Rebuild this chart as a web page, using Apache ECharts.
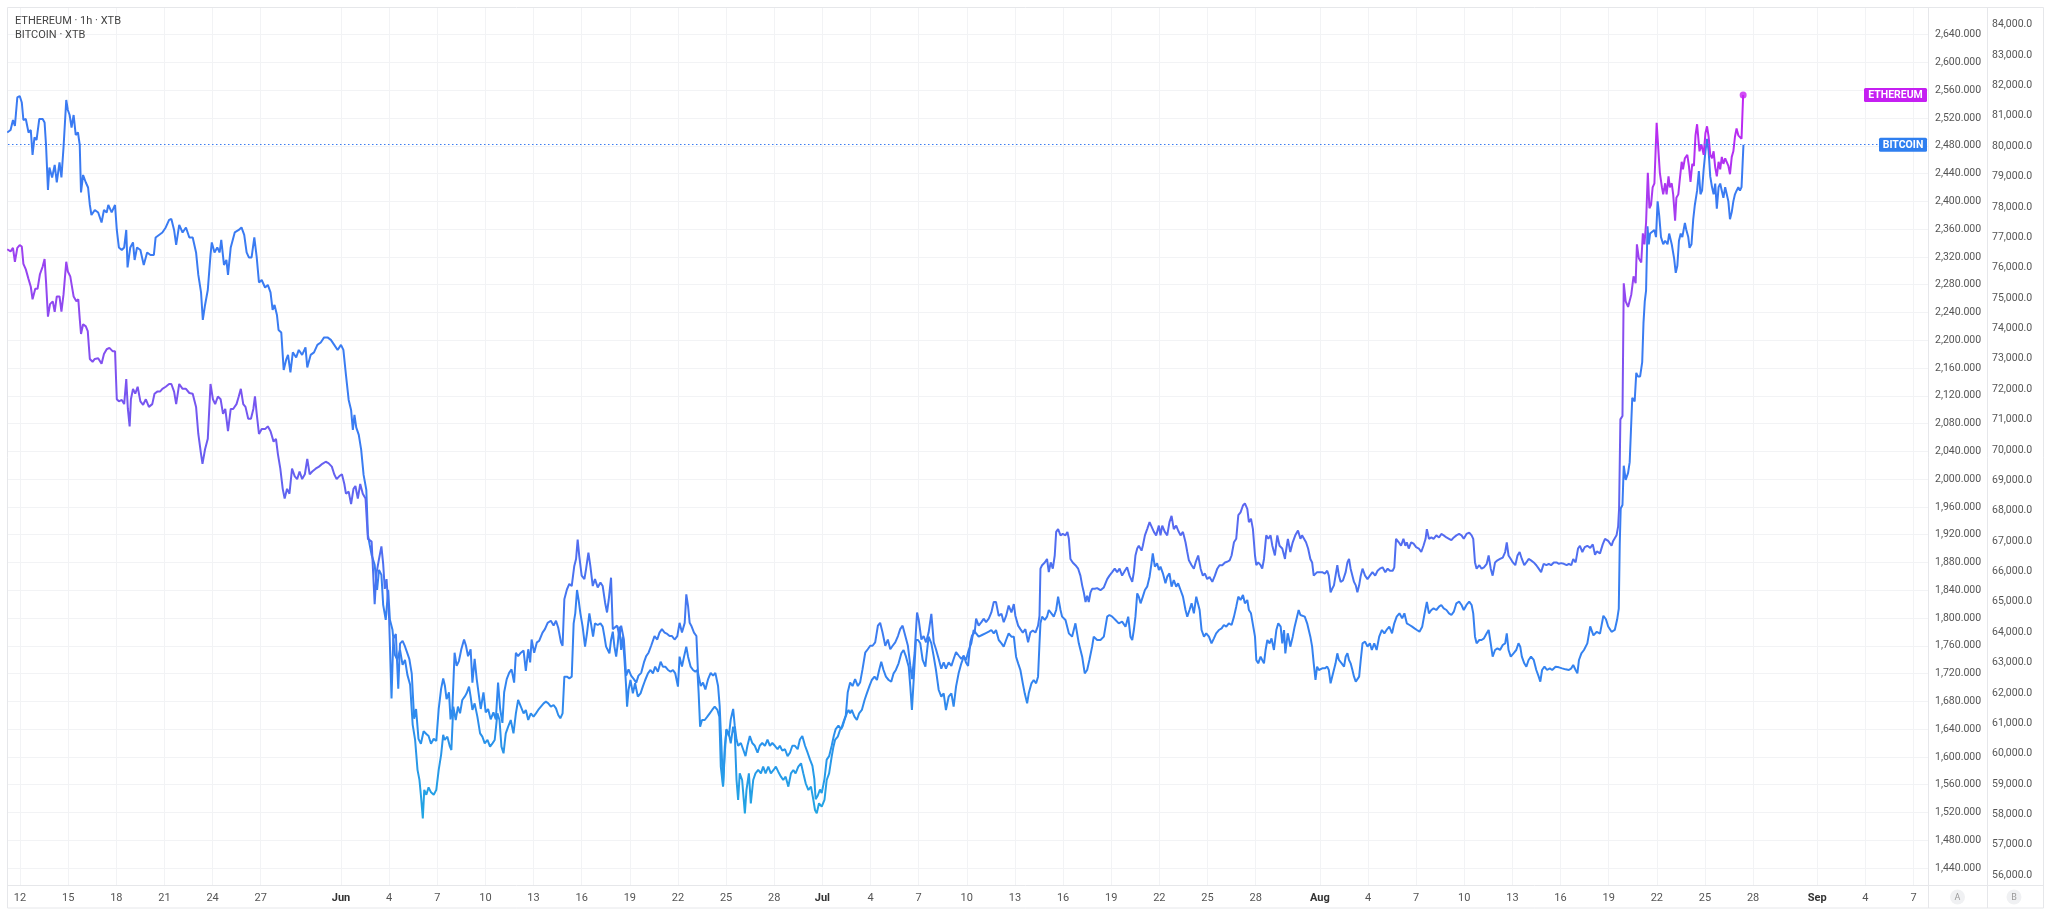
<!DOCTYPE html>
<html><head><meta charset="utf-8">
<script src="https://cdn.jsdelivr.net/npm/echarts@6/dist/echarts.min.js"></script>
<style>html,body{margin:0;padding:0;background:#fff;}#c{width:2048px;height:917px;}</style>
</head><body><div id="c"></div>
<script>
// x values are calendar days counted from 30 Apr (1 = 1 May, 32 = 1 Jun, 62 = 1 Jul, 93 = 1 Aug, 124 = 1 Sep)
const tickDays = [12,15,18,21,24,27,32,35,38,41,44,47,50,53,56,59,62,65,68,71,74,77,80,83,86,89,93,96,99,102,105,108,111,114,117,120,124,127,130];
const tickLabels = ['12','15','18','21','24','27','Jun','4','7','10','13','16','19','22','25','28','Jul','4','7','10','13','16','19','22','25','28','Aug','4','7','10','13','16','19','22','25','28','Sep','4','7'];
const ethTicks = [1440,1480,1520,1560,1600,1640,1680,1720,1760,1800,1840,1880,1920,1960,2000,2040,2080,2120,2160,2200,2240,2280,2320,2360,2400,2440,2480,2520,2560,2600,2640];
const btcTicks = [56000,57000,58000,59000,60000,61000,62000,63000,64000,65000,66000,67000,68000,69000,70000,71000,72000,73000,74000,75000,76000,77000,78000,79000,80000,81000,82000,83000,84000];

// ETHEREUM · 1h · XTB  [day, price]
const eth = [
[11.20,2331],[11.41,2328],[11.56,2333],[11.68,2313],[11.83,2333],[11.98,2337],[12.11,2335],[12.21,2310],[12.36,2302],[12.53,2288],[12.67,2277],[12.78,2259],[12.95,2274],[13.09,2274],[13.24,2295],[13.41,2306],[13.53,2317],[13.62,2284],[13.74,2234],[13.87,2252],[14.04,2256],[14.16,2241],[14.29,2263],[14.46,2263],[14.58,2241],[14.71,2266],[14.88,2313],[14.98,2299],[15.13,2292],[15.26,2274],[15.34,2263],[15.51,2256],[15.63,2259],[15.72,2231],[15.80,2209],[15.93,2223],[16.10,2220],[16.22,2213],[16.35,2173],[16.52,2169],[16.66,2173],[16.87,2174],[17.08,2166],[17.23,2180],[17.40,2187],[17.57,2189],[17.78,2184],[17.92,2184],[18.03,2115],[18.16,2112],[18.34,2114],[18.49,2108],[18.62,2144],[18.72,2101],[18.83,2076],[18.91,2115],[19.04,2130],[19.18,2123],[19.33,2133],[19.50,2112],[19.67,2107],[19.84,2115],[20.03,2104],[20.24,2108],[20.38,2123],[20.55,2126],[20.72,2126],[20.87,2130],[21.08,2133],[21.29,2137],[21.43,2137],[21.60,2126],[21.73,2108],[21.92,2137],[22.13,2130],[22.34,2130],[22.55,2124],[22.76,2123],[22.97,2104],[23.11,2065],[23.28,2036],[23.37,2022],[23.53,2043],[23.70,2058],[23.87,2137],[24.02,2115],[24.16,2108],[24.33,2119],[24.50,2115],[24.65,2094],[24.79,2101],[24.96,2069],[25.13,2101],[25.28,2101],[25.49,2108],[25.63,2119],[25.76,2130],[25.91,2108],[26.05,2104],[26.22,2087],[26.39,2087],[26.54,2101],[26.64,2119],[26.75,2094],[26.89,2065],[27.06,2072],[27.27,2072],[27.44,2076],[27.61,2069],[27.80,2054],[27.95,2058],[28.07,2036],[28.22,2015],[28.37,1986],[28.49,1972],[28.64,1986],[28.79,1979],[28.95,2015],[29.12,2004],[29.27,2000],[29.42,2011],[29.58,2000],[29.75,2007],[29.90,2029],[30.05,2007],[30.21,2011],[30.42,2015],[30.63,2018],[30.84,2022],[31.05,2025],[31.22,2023],[31.43,2018],[31.58,2007],[31.73,2000],[31.89,2004],[32.06,2007],[32.21,1993],[32.31,1979],[32.48,1982],[32.63,1964],[32.78,1986],[32.90,1990],[33.05,1972],[33.20,1993],[33.36,1979],[33.53,1972],[33.68,1914],[33.79,1914],
[33.91,1910],[34.10,1820],[34.21,1864],[34.37,1885],[34.52,1903],[34.63,1878],[34.73,1842],[34.84,1856],[35.00,1799],[35.15,1684],[35.26,1770],[35.42,1777],[35.57,1698],[35.68,1763],[35.84,1767],[35.99,1759],[36.14,1749],[36.26,1741],[36.41,1720],[36.56,1655],[36.68,1669],[36.83,1626],[36.98,1619],[37.15,1637],[37.32,1633],[37.46,1630],[37.61,1619],[37.78,1626],[37.94,1623],[38.09,1669],[38.24,1698],[38.37,1713],
[38.48,1702],[38.58,1683],[38.73,1693],[38.83,1654],[38.94,1669],[39.08,1750],[39.21,1731],[39.35,1738],[39.50,1755],[39.67,1769],[39.79,1760],[39.92,1745],[40.08,1755],[40.19,1707],[40.33,1741],[40.46,1712],[40.60,1688],[40.71,1669],[40.88,1693],[41.02,1664],[41.17,1669],[41.33,1654],[41.50,1664],[41.65,1654],[41.79,1707],[41.92,1669],[42.06,1649],[42.17,1693],[42.33,1712],[42.48,1721],[42.63,1726],[42.79,1707],[42.90,1750],[43.04,1745],[43.21,1750],[43.38,1753],[43.52,1724],[43.67,1755],[43.79,1736],[43.88,1769],[44.04,1750],[44.21,1765],[44.35,1767],[44.56,1779],[44.71,1784],[44.88,1793],[45.08,1796],[45.25,1789],[45.40,1796],[45.54,1786],[45.71,1765],[45.81,1760],[45.92,1827],[46.08,1841],[46.23,1849],[46.38,1846],[46.54,1875],[46.65,1885],[46.75,1913],[46.85,1889],[47.00,1861],[47.17,1856],[47.27,1870],[47.42,1894],[47.54,1875],[47.69,1846],[47.83,1856],[48.00,1844],[48.17,1851],[48.31,1846],[48.46,1822],[48.58,1808],[48.69,1827],[48.83,1858],[48.94,1784],[49.04,1784],[49.21,1789],[49.35,1774],[49.46,1789],[49.63,1769],[49.77,1717],[49.92,1726],[50.08,1717],[50.25,1712],[50.40,1707],[50.54,1717],[50.71,1721],[50.88,1736],[51.02,1745],[51.17,1750],[51.33,1760],[51.54,1774],[51.71,1769],[51.85,1779],[52.00,1784],[52.17,1779],[52.33,1777],[52.48,1774],[52.63,1774],[52.79,1769],[52.96,1774],[53.10,1793],[53.25,1779],[53.42,1793],[53.52,1834],[53.63,1817],[53.73,1793],[53.83,1789],[54.00,1779],[54.15,1774],[54.25,1721],[54.42,1702],[54.56,1707],[54.71,1697],[54.88,1712],[55.04,1721],[55.19,1717],[55.33,1721],[55.50,1702],[55.60,1673],[55.71,1616],[55.81,1558],[55.92,1606],[56.02,1640],[56.17,1630],[56.29,1654],[56.44,1669],[56.54,1645],[56.65,1625],[56.75,1616],[56.92,1620],[57.06,1611],[57.21,1601],[57.33,1616],[57.48,1630],[57.63,1620],[57.79,1616],[57.96,1606],[58.10,1616],[58.25,1620],[58.42,1616],[58.58,1625],[58.73,1616],[58.88,1620],[59.04,1616],[59.21,1611],[59.35,1616],[59.50,1609],[59.67,1611],[59.83,1601],[59.98,1606],[60.13,1616],[60.29,1616],[60.46,1611],[60.60,1625],[60.75,1630],[60.92,1616],[61.08,1606],[61.23,1596],[61.38,1587],[61.50,1568],[61.58,1539],[61.71,1544],[61.85,1553],[61.96,1548],[62.13,1568],[62.27,1596],[62.42,1601],[62.58,1616],[62.71,1630],[62.83,1640],[63.00,1645],[63.17,1640],[63.31,1650],[63.46,1660],[63.58,1693],[63.73,1707],[63.88,1702],[64.04,1712],[64.21,1702],[64.35,1707],[64.50,1726],[64.67,1750],[64.83,1755],[64.98,1760],[65.13,1760],[65.29,1765],[65.46,1789],[65.60,1793],[65.75,1779],[65.92,1760],[66.08,1769],[66.23,1755],[66.38,1760],[66.54,1765],[66.71,1774],[66.85,1784],[67.00,1789],[67.17,1774],[67.33,1760],[67.48,1731],[67.58,1712],[67.75,1750],[67.90,1808],[68.00,1798],[68.17,1769],[68.31,1774],
[68.46,1765],[68.62,1779],[68.79,1806],[68.94,1765],[69.08,1755],[69.25,1741],[69.41,1727],[69.56,1736],[69.70,1727],[69.87,1736],[70.04,1731],[70.18,1741],[70.33,1751],[70.49,1746],[70.66,1741],[70.81,1746],[70.95,1736],[71.08,1731],[71.22,1765],[71.33,1775],[71.49,1779],[71.58,1799],[71.74,1789],[71.91,1794],[72.05,1799],[72.20,1794],[72.37,1799],[72.53,1808],[72.68,1823],[72.82,1823],[72.99,1803],[73.16,1806],[73.30,1794],[73.45,1803],[73.61,1818],[73.78,1808],[73.93,1820],[74.03,1803],[74.20,1789],[74.34,1784],[74.49,1779],[74.65,1784],[74.82,1765],[74.96,1779],[75.11,1782],[75.28,1779],[75.44,1789],[75.53,1803],[75.59,1871],[75.69,1876],[75.86,1880],[76.00,1885],[76.11,1866],[76.23,1880],[76.36,1871],[76.48,1890],[76.57,1924],[76.69,1928],[76.84,1919],[76.98,1921],[77.15,1919],[77.27,1924],[77.36,1914],[77.46,1885],[77.60,1880],[77.77,1876],[77.94,1871],[78.08,1861],[78.19,1847],[78.29,1837],[78.40,1823],[78.50,1832],[78.60,1823],[78.71,1837],[78.81,1842],[78.98,1842],[79.12,1843],[79.33,1840],[79.54,1844],[79.75,1856],[79.89,1861],[80.06,1866],[80.22,1871],[80.37,1866],[80.52,1871],[80.68,1861],[80.85,1868],[80.99,1873],[81.14,1861],[81.31,1852],[81.41,1866],[81.51,1890],[81.62,1900],[81.72,1904],[81.89,1897],[81.97,1904],[82.10,1919],[82.24,1928],[82.39,1938],[82.51,1936],[82.66,1924],[82.80,1919],[82.97,1933],[83.07,1919],[83.18,1933],[83.34,1924],[83.49,1919],[83.63,1938],[83.76,1947],[83.90,1928],[84.05,1933],[84.17,1926],[84.32,1919],[84.47,1924],[84.63,1909],[84.74,1895],[84.84,1883],[85.01,1876],[85.15,1871],[85.26,1880],[85.42,1890],[85.57,1871],[85.71,1861],[85.84,1864],[85.98,1856],[86.13,1859],[86.30,1852],[86.46,1861],[86.61,1871],[86.75,1876],[86.92,1876],[87.09,1880],[87.23,1881],[87.38,1883],[87.50,1890],[87.65,1909],[87.79,1914],[87.92,1948],[88.06,1952],[88.21,1962],[88.33,1965],[88.48,1957],[88.58,1938],[88.71,1943],[88.83,1928],[88.96,1890],[89.04,1876],[89.16,1880],[89.31,1876],[89.41,1871],[89.52,1885],[89.66,1919],[89.79,1914],[89.93,1919],[90.04,1904],[90.20,1890],[90.35,1919],[90.49,1904],[90.66,1900],[90.83,1885],
[90.85,1890],[91.01,1914],[91.16,1895],[91.31,1909],[91.47,1919],[91.64,1926],[91.79,1914],[91.89,1919],[92.00,1921],[92.14,1909],[92.27,1900],[92.41,1885],[92.52,1880],[92.62,1861],[92.73,1859],[92.83,1866],[92.94,1864],[93.15,1866],[93.31,1864],[93.46,1868],[93.56,1861],[93.67,1837],[93.77,1842],[93.88,1847],[93.98,1861],[94.09,1876],[94.19,1861],[94.30,1852],[94.44,1854],[94.61,1866],[94.72,1880],[94.82,1885],[94.92,1871],[95.03,1861],[95.13,1852],[95.24,1847],[95.34,1837],[95.45,1847],[95.55,1861],[95.66,1871],[95.82,1861],[95.97,1856],[96.12,1861],[96.28,1866],[96.45,1861],[96.60,1868],[96.74,1871],[96.91,1873],[97.08,1866],[97.23,1871],[97.37,1868],[97.54,1868],[97.64,1873],[97.75,1914],[97.92,1909],[98.06,1904],[98.21,1914],[98.33,1904],[98.42,1909],[98.54,1900],[98.69,1909],[98.84,1907],[99.00,1902],[99.17,1900],[99.32,1895],[99.46,1904],[99.59,1914],[99.67,1928],[99.80,1914],[99.95,1916],[100.09,1914],[100.26,1919],[100.43,1916],[100.57,1921],[100.72,1919],[100.89,1916],[101.05,1914],[101.20,1912],[101.35,1916],[101.51,1919],[101.68,1921],[101.83,1919],[101.97,1914],[102.14,1921],[102.31,1923],[102.46,1919],[102.56,1914],[102.67,1880],[102.77,1871],[102.94,1876],[103.08,1871],[103.23,1873],[103.40,1878],[103.52,1890],[103.65,1871],[103.77,1861],[103.92,1880],[104.07,1883],[104.23,1885],[104.40,1887],[104.55,1895],[104.65,1909],[104.76,1890],[104.90,1885],[105.03,1880],[105.18,1876],[105.32,1890],[105.45,1895],[105.59,1885],[105.74,1876],[105.87,1880],[106.01,1885],[106.16,1883],[106.33,1880],[106.49,1876],[106.64,1871],[106.79,1866],[106.95,1878],[107.12,1876],[107.27,1878],[107.41,1876],[107.58,1880],[107.75,1880],[107.90,1878],[108.04,1879],[108.21,1878],[108.38,1876],[108.52,1878],[108.67,1876],[108.79,1885],[108.94,1880],[109.09,1900],[109.21,1904],[109.36,1895],[109.51,1902],[109.67,1904],
[109.85,1901],[110.01,1906],[110.15,1891],[110.26,1896],[110.46,1893],[110.63,1906],[110.77,1914],[110.97,1911],[111.18,1904],[111.28,1911],[111.49,1919],[111.59,1932],[111.65,1958],[111.73,2086],[111.86,2091],[111.94,2282],[112.06,2256],[112.21,2248],[112.31,2246],[112.41,2266],[112.55,2292],[112.68,2282],[112.76,2338],[112.88,2318],[113.03,2312],[113.13,2354],[113.23,2338],[113.33,2369],[113.44,2441],[113.54,2390],[113.64,2395],[113.74,2420],[113.85,2426],[113.99,2513],[114.11,2513],[114.19,2441],[114.32,2420],[114.40,2410],[114.52,2426],[114.61,2410],[114.73,2436],[114.81,2420],[114.93,2426],[115.02,2410],[115.14,2372],[115.22,2405],[115.34,2410],[115.43,2431],[115.55,2457],[115.63,2446],[115.75,2462],[115.90,2467],[116.00,2451],[116.10,2428],[116.21,2454],[116.31,2451],[116.41,2495],[116.51,2511],[116.57,2513],[116.66,2472],[116.78,2482],[116.92,2467],[117.03,2498],[117.13,2508],[117.23,2493],[117.33,2467],[117.44,2462],[117.54,2472],[117.64,2449],[117.74,2436],[117.85,2457],[117.95,2446],[118.05,2464],[118.15,2454],[118.26,2462],[118.36,2464],[118.46,2451],[118.56,2439],[118.67,2464],[118.77,2472],[118.87,2493],[118.97,2505],[119.08,2495],[119.18,2493],[119.28,2490],[119.38,2553]
];

// BITCOIN · XTB  [day, price]
const btc = [
[11.20,80452],[11.41,80535],[11.56,80864],[11.68,80667],[11.83,81605],[11.98,81654],[12.11,81440],[12.21,80864],[12.36,80897],[12.53,80452],[12.67,80535],[12.78,79712],[12.90,80288],[13.03,80205],[13.20,80897],[13.41,80897],[13.53,80781],[13.62,80041],[13.74,78559],[13.83,79300],[14.00,78971],[14.16,79383],[14.29,78806],[14.46,79465],[14.58,78971],[14.71,79959],[14.88,81522],[14.98,81193],[15.09,81028],[15.21,80617],[15.34,81028],[15.47,80370],[15.61,80452],[15.72,80041],[15.80,78477],[15.93,79053],[16.10,78806],[16.24,78641],[16.35,78066],[16.45,77736],[16.66,77901],[16.87,77819],[17.08,77489],[17.23,77901],[17.40,77819],[17.50,78066],[17.71,77819],[17.92,78066],[18.03,77243],[18.16,76667],[18.34,76584],[18.49,76667],[18.62,77243],[18.70,76008],[18.87,76667],[19.04,76831],[19.14,76255],[19.29,76667],[19.50,76584],[19.71,76090],[19.92,76502],[20.13,76420],[20.34,76420],[20.45,76996],[20.66,77078],[20.87,77160],[21.08,77325],[21.29,77572],[21.43,77605],[21.60,77243],[21.73,76749],[21.92,77407],[22.13,77160],[22.34,77325],[22.55,76996],[22.76,76996],[22.97,76502],[23.11,75761],[23.28,75185],[23.39,74280],[23.53,74773],[23.70,75267],[23.87,76420],[23.95,76831],[24.12,76502],[24.29,76667],[24.44,76502],[24.54,76913],[24.71,76090],[24.86,76255],[24.96,75761],[25.13,76667],[25.38,77160],[25.63,77243],[25.80,77325],[25.97,77078],[26.12,76502],[26.26,76337],[26.43,76337],[26.60,76996],[26.75,76337],[26.89,75514],[27.06,75596],[27.27,75349],[27.44,75432],[27.61,75185],[27.74,74609],[27.86,74773],[28.01,74444],[28.11,73950],[28.28,73868],[28.43,72634],[28.58,72963],[28.70,73128],[28.85,72551],[29.00,73210],[29.21,73045],[29.37,73292],[29.58,73128],[29.79,73374],[29.90,72716],[30.11,73128],[30.32,73210],[30.53,73457],[30.74,73539],[30.95,73704],[31.16,73704],[31.37,73622],[31.58,73457],[31.79,73292],[32.00,73457],[32.15,73292],[32.31,72469],[32.48,71646],[32.63,71316],[32.74,70658],[32.84,71152],[32.95,70740],[33.11,70493],[33.26,70000],[33.41,69177],[33.58,68683],[33.68,67202],[33.79,66872],
[33.91,66544],[34.10,66214],[34.25,65392],[34.37,66050],[34.52,65885],[34.63,64898],[34.79,64404],[34.94,65392],[35.05,64404],[35.21,64075],[35.36,63252],[35.51,63087],[35.68,63416],[35.84,62922],[35.99,63087],[36.14,62593],[36.31,62264],[36.47,60947],[36.62,60453],[36.77,59466],[36.89,59137],[36.98,58643],[37.10,57869],[37.19,58807],[37.32,58643],[37.46,58890],[37.61,58725],[37.78,58643],[37.94,58807],[38.09,59466],[38.24,59960],[38.37,60618],
[38.46,60449],[38.63,60558],[38.79,60229],[38.88,60120],[39.00,61547],[39.15,61107],[39.29,61547],[39.42,61327],[39.56,61766],[39.71,61876],[39.83,61985],[39.98,62205],[40.08,61876],[40.19,61437],[40.33,61656],[40.50,61217],[40.67,60668],[40.81,60558],[40.96,60339],[41.13,60449],[41.29,60229],[41.44,60339],[41.58,60449],[41.75,61327],[41.88,61107],[42.00,60229],[42.13,60010],[42.27,60668],[42.42,60888],[42.58,61107],[42.75,60668],[42.90,61327],[43.04,61766],[43.21,61547],[43.38,61327],[43.52,61437],[43.67,61107],[43.83,61327],[44.00,61217],[44.15,61327],[44.29,61437],[44.46,61547],[44.63,61656],[44.77,61711],[44.92,61656],[45.08,61547],[45.25,61601],[45.40,61492],[45.54,61272],[45.67,61162],[45.81,61327],[45.92,62534],[46.08,62534],[46.23,62479],[46.38,62534],[46.50,64290],[46.60,64620],[46.71,65388],[46.81,65059],[46.92,64620],[47.06,64181],[47.21,63522],[47.33,63961],[47.48,64620],[47.58,64290],[47.71,63851],[47.83,64290],[48.00,64235],[48.17,64290],[48.31,64181],[48.42,63851],[48.52,63522],[48.63,63412],[48.73,63302],[48.83,63742],[48.94,64016],[49.04,63522],[49.15,63193],[49.25,63632],[49.35,64181],[49.46,63412],[49.56,63851],[49.67,63083],[49.77,62205],[49.83,61547],[49.92,62095],[50.04,62424],[50.19,61985],[50.33,62315],[50.50,61876],[50.67,61985],[50.81,62205],[50.96,62424],[51.13,62644],[51.29,62754],[51.44,62644],[51.58,62864],[51.75,62699],[51.92,63028],[52.06,62864],[52.21,62864],[52.38,62754],[52.54,62699],[52.69,62754],[52.83,62644],[53.00,62205],[53.10,63193],[53.25,62864],[53.38,63193],[53.52,63522],[53.63,63193],[53.79,62864],[53.94,62754],[54.08,62699],[54.21,62754],[54.29,61985],[54.38,60888],[54.50,61107],[54.67,61107],[54.83,61217],[54.98,61327],[55.13,61437],[55.29,61547],[55.46,61437],[55.58,61217],[55.67,59571],[55.81,58912],[55.92,60229],[56.02,60778],[56.17,60668],[56.29,60339],[56.44,60888],[56.54,60668],[56.65,59132],[56.75,58473],[56.85,59351],[57.00,59132],[57.17,58034],[57.27,58802],[57.42,59351],[57.54,58363],[57.69,59132],[57.83,59351],[58.00,59461],[58.17,59351],[58.31,59571],[58.46,59351],[58.63,59571],[58.79,59351],[58.96,59461],[59.10,59571],[59.25,59406],[59.42,59241],[59.56,59132],[59.71,59241],[59.88,58912],[60.04,59351],[60.19,59461],[60.33,59351],[60.50,59571],[60.67,59680],[60.81,59351],[60.96,59022],[61.13,58802],[61.29,58912],[61.44,58473],[61.54,58144],[61.65,58034],[61.79,58363],[61.96,58254],[62.13,58473],[62.27,59132],[62.42,59351],[62.58,59900],[62.69,60229],[62.79,60449],[62.96,60558],[63.10,60778],[63.25,60888],[63.38,61107],[63.52,61327],[63.63,61437],[63.73,61327],[63.83,61437],[64.00,61217],[64.15,61107],[64.29,61327],[64.46,61437],[64.63,61766],[64.77,61985],[64.92,62205],[65.08,62424],[65.25,62534],[65.40,62424],[65.54,62754],[65.67,63028],[65.81,62754],[65.96,62534],[66.13,62424],[66.29,62369],[66.44,62644],[66.58,62754],[66.75,62973],[66.92,63303],[67.06,63413],[67.21,63193],[67.38,62864],[67.48,62205],[67.58,61437],[67.69,62424],[67.83,63742],[67.96,63742],[68.10,63632],[68.25,63083],[68.42,62864],
[68.46,63083],[68.62,63851],[68.79,63631],[68.94,63192],[69.08,62753],[69.25,62095],[69.41,61875],[69.56,61985],[69.70,61436],[69.87,61875],[70.04,61985],[70.18,61546],[70.33,62205],[70.49,62644],[70.66,62973],[70.81,63192],[70.95,63083],[71.12,63412],[71.28,63631],[71.43,64070],[71.58,63961],[71.74,63851],[71.95,63906],[72.16,63961],[72.37,64016],[72.53,64070],[72.68,63961],[72.82,64070],[72.99,63741],[73.16,63631],[73.30,63522],[73.45,63741],[73.61,63961],[73.78,63851],[73.93,63851],[74.07,63192],[74.20,62973],[74.34,62753],[74.49,62314],[74.61,61985],[74.76,61656],[74.86,61985],[75.03,62314],[75.17,62424],[75.32,62314],[75.44,62534],[75.53,63631],[75.59,64290],[75.69,64510],[75.86,64400],[76.00,64510],[76.11,64729],[76.27,64619],[76.42,64510],[76.57,64729],[76.69,65168],[76.84,64729],[76.94,64510],[77.15,64400],[77.36,63961],[77.56,63851],[77.77,64290],[77.98,63631],[78.19,63192],[78.35,62644],[78.50,62753],[78.64,63083],[78.81,63522],[78.91,63851],[79.12,63741],[79.33,63741],[79.54,63851],[79.75,64510],[79.89,64564],[80.06,64510],[80.27,64400],[80.47,64290],[80.68,64345],[80.89,64180],[81.06,64510],[81.20,63851],[81.31,63741],[81.41,64070],[81.51,64510],[81.62,65278],[81.72,65168],[81.83,64949],[81.97,65168],[82.10,65388],[82.24,65497],[82.39,65827],[82.51,66266],[82.59,66595],[82.72,66156],[82.86,66266],[82.97,66046],[83.07,66156],[83.22,65936],[83.38,65607],[83.49,65827],[83.63,65936],[83.76,65497],[83.90,65717],[84.05,65497],[84.17,65607],[84.32,65388],[84.47,65168],[84.63,64729],[84.74,64510],[84.88,64729],[85.01,64949],[85.15,64619],[85.30,65168],[85.42,65223],[85.51,64729],[85.63,64070],[85.78,63851],[85.92,63961],[86.09,63851],[86.25,63631],[86.40,63796],[86.54,63961],[86.71,64070],[86.88,64125],[87.02,64235],[87.17,64180],[87.33,64290],[87.50,64235],[87.65,64510],[87.79,64839],[87.92,65168],[88.06,65058],[88.21,65223],[88.33,64949],[88.48,65058],[88.58,64729],[88.71,64619],[88.83,64674],[88.96,63851],[89.04,63083],[89.16,62973],[89.31,63192],[89.41,63083],[89.52,62973],[89.62,63412],[89.73,63741],[89.87,63631],[89.99,63796],[90.14,63412],[90.29,64070],[90.41,64290],[90.56,64180],[90.66,63631],[90.77,64070],
[90.85,63302],[91.00,63961],[91.05,63851],[91.16,63522],[91.31,63851],[91.43,64180],[91.58,64510],[91.68,64729],[91.79,64564],[91.89,64619],[92.06,64510],[92.21,64290],[92.31,64071],[92.41,63851],[92.52,63522],[92.62,62973],[92.73,62424],[92.83,62863],[92.94,62753],[93.15,62808],[93.31,62808],[93.46,62863],[93.56,62753],[93.67,62314],[93.77,62534],[93.98,62973],[94.09,63302],[94.19,63083],[94.36,62973],[94.51,62863],[94.61,63193],[94.72,63302],[94.82,63083],[94.92,62973],[95.03,62753],[95.13,62534],[95.24,62369],[95.34,62314],[95.45,62534],[95.55,63083],[95.66,63631],[95.82,63686],[95.97,63522],[96.12,63631],[96.24,63412],[96.39,63631],[96.54,63412],[96.70,63851],[96.87,64071],[97.02,63961],[97.16,64071],[97.33,64180],[97.50,63961],[97.64,64290],[97.79,64510],[97.96,64619],[98.13,64454],[98.27,64619],[98.42,64290],[98.59,64235],[98.75,64180],[98.90,64125],[99.05,64071],[99.21,64016],[99.38,64180],[99.53,64619],[99.67,64997],[99.80,64619],[99.95,64729],[100.09,64784],[100.26,64729],[100.43,64839],[100.57,64894],[100.72,64784],[100.89,64729],[101.05,64619],[101.20,64564],[101.35,64674],[101.51,64949],[101.68,65003],[101.83,64894],[101.97,64729],[102.14,64894],[102.31,65003],[102.46,64894],[102.56,64619],[102.67,63851],[102.77,63631],[102.94,63741],[103.08,63741],[103.23,63796],[103.40,63961],[103.52,64071],[103.65,63631],[103.77,63193],[103.92,63412],[104.07,63467],[104.23,63412],[104.40,63577],[104.55,63631],[104.65,63961],[104.76,63412],[104.90,63193],[105.07,63302],[105.24,63412],[105.38,63631],[105.49,63522],[105.59,63193],[105.74,62973],[105.87,62863],[106.01,63083],[106.16,63193],[106.33,63083],[106.49,62753],[106.64,62534],[106.74,62369],[106.85,62753],[107.00,62863],[107.16,62753],[107.33,62808],[107.48,62753],[107.69,62863],[107.90,62841],[108.10,62808],[108.31,62775],[108.52,62753],[108.67,62808],[108.79,62918],[108.94,62753],[109.05,62644],[109.15,63083],[109.30,63302],[109.46,63412],[109.67,63631],
[109.85,64188],[110.05,63894],[110.26,64012],[110.46,63953],[110.67,64541],[110.83,64423],[110.97,64188],[111.18,64012],[111.38,64071],[111.53,64423],[111.63,64776],[111.69,66893],[111.75,68069],[111.86,68187],[111.94,69481],[112.06,69010],[112.21,69245],[112.31,69598],[112.47,71715],[112.62,71597],[112.72,72538],[112.82,72420],[112.96,72420],[113.09,72891],[113.17,74184],[113.25,74890],[113.33,75243],[113.42,77364],[113.50,76771],[113.58,77124],[113.70,77124],[113.85,77242],[113.95,77007],[114.05,78183],[114.15,77712],[114.26,77007],[114.40,76771],[114.52,76889],[114.67,76771],[114.77,77124],[114.93,76771],[115.08,76301],[115.18,75831],[115.28,76066],[115.38,76889],[115.49,77124],[115.59,77007],[115.75,77477],[115.84,77242],[115.96,77007],[116.04,76654],[116.16,76771],[116.27,77595],[116.37,78065],[116.51,78535],[116.62,79182],[116.72,78417],[116.82,78535],[116.92,79241],[117.03,79829],[117.13,80241],[117.23,79829],[117.33,79006],[117.44,78653],[117.54,78417],[117.64,78770],[117.74,77947],[117.85,78653],[117.95,78770],[118.05,78535],[118.15,78300],[118.26,78653],[118.36,78417],[118.46,78183],[118.56,77595],[118.67,77830],[118.77,78183],[118.87,78417],[118.97,78535],[119.08,78653],[119.18,78535],[119.28,78653],[119.40,80050]
];

const ethColors = ['#1fa8e4','#2f88f0','#4a72f0','#6a5df0','#8a4cf0','#a83bf0','#c51ff2'];
const btcColors = ['#1fa9e2','#3383ef','#3a7cf2','#3a7cf2','#3a7bf2','#3a7af2'];

const FONT = 'Roboto, "Noto Sans", Arial, sans-serif';
const ethLast = eth[eth.length - 1];
const btcLast = btc[btc.length - 1];

function fmtEth(v){ return v.toLocaleString('en-US',{minimumFractionDigits:3, maximumFractionDigits:3}); }
function fmtBtc(v){ return v.toLocaleString('en-US',{minimumFractionDigits:1, maximumFractionDigits:1}); }
function fmtDay(v){
  for (let i = 0; i < tickDays.length; i++) {
    if (Math.abs(tickDays[i] - v) < 1e-6) {
      const t = tickLabels[i];
      return /^[A-Z]/.test(t) ? '{m|' + t + '}' : t;
    }
  }
  return '';
}

const chart = echarts.init(document.getElementById('c'), null, {renderer: 'canvas'});
const GRID_LINE = '#f2f3f5';
const option = {
  animation: false,
  backgroundColor: '#ffffff',
  textStyle: {fontFamily: FONT},
  grid: {left: 8, right: 120, top: 8, bottom: 31.3, containLabel: false, outerBoundsMode: 'none'},
  xAxis: {
    type: 'value', min: 11.25, max: 130.9,
    axisLine: {show: false},
    axisTick: {show: false, customValues: tickDays},
    splitLine: {show: true, lineStyle: {color: GRID_LINE, width: 1}},
    axisLabel: {customValues: tickDays, margin: 7, fontSize: 11, color: '#555', fontFamily: FONT,
      formatter: fmtDay, rich: {m: {fontWeight: 'bold', color: '#333', fontSize: 11, fontFamily: FONT}}}
  },
  yAxis: [
    {type: 'value', position: 'right', min: 1414.5, max: 2678.4,
     axisLine: {show: false}, axisTick: {show: false, customValues: ethTicks},
     splitLine: {show: true, lineStyle: {color: GRID_LINE, width: 1}},
     axisLabel: {customValues: ethTicks, margin: 7, fontSize: 10.5, color: '#555', fontFamily: FONT, formatter: fmtEth}},
    {type: 'value', position: 'right', offset: 57, min: 55651, max: 84551,
     axisLine: {show: false}, axisTick: {show: false, customValues: btcTicks},
     splitLine: {show: false},
     axisLabel: {customValues: btcTicks, margin: 7, fontSize: 10.5, color: '#555', fontFamily: FONT, formatter: fmtBtc}}
  ],
  visualMap: [
    {type: 'continuous', show: false, seriesIndex: 0, dimension: 1, min: 1500, max: 2580, inRange: {color: ethColors}},
    {type: 'continuous', show: false, seriesIndex: 1, dimension: 1, min: 57500, max: 82500, inRange: {color: btcColors}}
  ],
  series: [
    {name: 'ETHEREUM', type: 'line', yAxisIndex: 0, data: eth, showSymbol: false, symbol: 'none',
     lineStyle: {width: 2}, z: 4},
    {name: 'BITCOIN', type: 'line', yAxisIndex: 1, data: btc, showSymbol: false, symbol: 'none',
     lineStyle: {width: 2}, z: 3,
     markLine: {silent: true, symbol: ['none', 'none'], label: {show: false},
       lineStyle: {color: '#3a7cf2', type: [1.5, 2.5], width: 1}, data: [{yAxis: btcLast[1]}]}},
    {type: 'scatter', yAxisIndex: 0, data: [ethLast], symbolSize: 7, itemStyle: {color: '#c51ff2'}, z: 6, silent: true}
  ]
};
chart.setOption(option);

const yE = chart.convertToPixel({yAxisIndex: 0}, ethLast[1]);
const yB = chart.convertToPixel({yAxisIndex: 1}, btcLast[1]);
const BORDER = '#e6e7ea';
function hline(x1, x2, y){ return {type: 'line', silent: true, shape: {x1: x1, y1: y, x2: x2, y2: y}, style: {stroke: BORDER, lineWidth: 1}}; }
function vline(x, y1, y2){ return {type: 'line', silent: true, shape: {x1: x, y1: y1, x2: x, y2: y2}, style: {stroke: BORDER, lineWidth: 1}}; }
function txt(t, x, y, font, fill, align){
  return {type: 'text', silent: true, x: x, y: y, z: 20,
    style: {text: t, font: font, fill: fill, textAlign: align || 'left', align: align || 'left', textVerticalAlign: 'middle', verticalAlign: 'middle'}};
}
const g = [
  {type: 'rect', silent: true, shape: {x: 7.5, y: 7.5, width: 2036, height: 900.5}, style: {fill: 'none', stroke: BORDER, lineWidth: 1}},
  hline(7.5, 2043.5, 885.5),
  vline(1928.5, 7.5, 908),
  vline(1987.5, 7.5, 908),
  txt('ETHEREUM · 1h · XTB', 15, 21, '11px ' + FONT, '#444'),
  txt('BITCOIN · XTB', 15, 35, '11px ' + FONT, '#444'),
  {type: 'circle', silent: true, shape: {cx: 1957.5, cy: 897, r: 7.5}, style: {fill: '#f0f1f3'}},
  txt('A', 1957.5, 897.5, '9px ' + FONT, '#9a9a9a', 'center'),
  {type: 'circle', silent: true, shape: {cx: 2014, cy: 897, r: 7.5}, style: {fill: '#f0f1f3'}},
  txt('B', 2014, 897.5, '9px ' + FONT, '#9a9a9a', 'center'),
  {type: 'rect', silent: true, z: 19, shape: {x: 1864, y: yE - 7, width: 63, height: 14, r: 1.5}, style: {fill: '#c51ff2'}},
  txt('ETHEREUM', 1895.5, yE + 0.5, 'bold 10.5px ' + FONT, '#ffffff', 'center'),
  {type: 'rect', silent: true, z: 19, shape: {x: 1879, y: yB - 7, width: 48, height: 14, r: 1.5}, style: {fill: '#2f7ff0'}},
  txt('BITCOIN', 1903, yB + 0.5, 'bold 10.5px ' + FONT, '#ffffff', 'center')
];
chart.setOption({graphic: {elements: g}});
</script>
</body></html>
